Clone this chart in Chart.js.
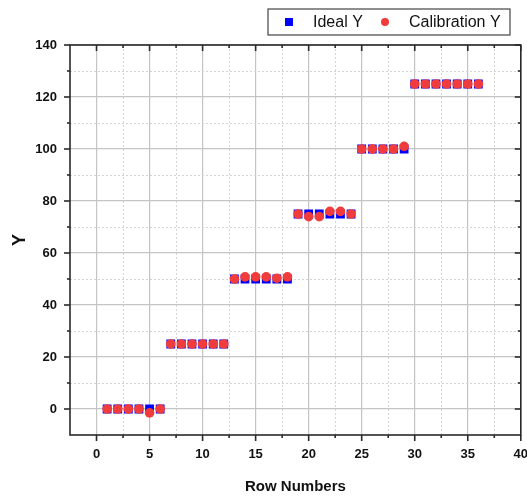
<!DOCTYPE html>
<html>
<head>
<meta charset="utf-8">
<script src="https://cdn.jsdelivr.net/npm/chart.js@4/dist/chart.umd.min.js"></script>
<style>
	html, body { margin: 0; padding: 0; background: #fff; }
	#wrap { width: 527px; height: 500px; }
</style>
</head>
<body>
<div id="wrap"><canvas id="calib"></canvas></div>
<script>
const rows = [1, 2, 3, 4, 5, 6, 7, 8, 9, 10, 11, 12, 13, 14, 15, 16, 17, 18,
	19, 20, 21, 22, 23, 24, 25, 26, 27, 28, 29, 30, 31, 32, 33, 34, 35, 36];
const idealY = [0, 0, 0, 0, 0, 0, 25, 25, 25, 25, 25, 25, 50, 50, 50, 50, 50, 50,
	75, 75, 75, 75, 75, 75, 100, 100, 100, 100, 100, 125, 125, 125, 125, 125, 125, 125];
const calibrationY = [0, 0, 0, 0, -1.5, 0, 25, 25, 25, 25, 25, 25, 50, 50.8, 50.8, 50.8, 50.3, 50.8,
	75, 74, 74, 76, 76, 75, 100, 100, 100, 100, 101, 125, 125, 125, 125, 125, 125, 125];
const xTicks = [0, 5, 10, 15, 20, 25, 30, 35, 40];
const xMinor = [2.5, 7.5, 12.5, 17.5, 22.5, 27.5, 32.5, 37.5];
const yTicks = [0, 20, 40, 60, 80, 100, 120, 140];
const yMinor = [-10, 10, 30, 50, 70, 90, 110, 130];

const frameColor = '#2a2a2a';
const tickFont = { family: 'Liberation Sans, Arial, sans-serif', size: 13, weight: 'bold' };

// minor grid, frame and ticks on all four sides
const framePlugin = {
	id: 'frame',
	beforeDatasetsDraw(chart) {
		const { ctx, chartArea: a, scales: { x, y } } = chart;
		ctx.save();
		ctx.strokeStyle = '#d4d4d4';
		ctx.lineWidth = 1;
		ctx.setLineDash([2, 2]);
		xMinor.forEach(v => {
			const px = Math.round(x.getPixelForValue(v)) + 0.5;
			ctx.beginPath(); ctx.moveTo(px, a.top); ctx.lineTo(px, a.bottom); ctx.stroke();
		});
		yMinor.forEach(v => {
			if (v <= y.min) return;
			const py = Math.round(y.getPixelForValue(v)) + 0.5;
			ctx.beginPath(); ctx.moveTo(a.left, py); ctx.lineTo(a.right, py); ctx.stroke();
		});
		ctx.restore();
	},
	afterDraw(chart) {
		const { ctx, chartArea: a, scales: { x, y } } = chart;
		ctx.save();
		ctx.strokeStyle = frameColor;
		ctx.lineWidth = 1.6;
		ctx.strokeRect(a.left, a.top, a.right - a.left, a.bottom - a.top);
		const tick = (x1, y1, x2, y2) => {
			ctx.beginPath(); ctx.moveTo(x1, y1); ctx.lineTo(x2, y2); ctx.stroke();
		};
		xTicks.forEach(v => {
			const px = x.getPixelForValue(v);
			tick(px, a.bottom, px, a.bottom + 6);
			tick(px, a.top, px, a.top + 6);
		});
		xMinor.forEach(v => {
			const px = x.getPixelForValue(v);
			tick(px, a.bottom, px, a.bottom + 3);
			tick(px, a.top, px, a.top + 3);
		});
		yTicks.forEach(v => {
			const py = y.getPixelForValue(v);
			tick(a.left - 6, py, a.left, py);
			tick(a.right - 6, py, a.right, py);
		});
		yMinor.forEach(v => {
			if (v <= y.min) return;
			const py = y.getPixelForValue(v);
			tick(a.left - 3, py, a.left, py);
			tick(a.right - 3, py, a.right, py);
		});

		// legend box
		ctx.lineWidth = 1.2;
		ctx.strokeStyle = '#444';
		ctx.strokeRect(268, 9, 242, 26);
		ctx.font = '16px Liberation Sans, Arial, sans-serif';
		ctx.textBaseline = 'middle';
		const ds = chart.data.datasets;
		ctx.fillStyle = ds[0].backgroundColor;
		ctx.fillRect(285, 18, 8, 8);
		ctx.fillStyle = '#111';
		ctx.fillText(ds[0].label, 313, 23);
		ctx.fillStyle = ds[1].backgroundColor;
		ctx.beginPath(); ctx.arc(385, 22, 4, 0, Math.PI * 2); ctx.fill();
		ctx.fillStyle = '#111';
		ctx.fillText(ds[1].label, 409, 23);
		ctx.restore();
	}
};

new Chart(document.getElementById('calib'), {
	type: 'scatter',
	data: {
		datasets: [
			{
				label: 'Ideal Y',
				data: rows.map((r, i) => ({ x: r, y: idealY[i] })),
				order: 2,
				pointStyle: 'rect',
				pointRadius: 6.2,
				backgroundColor: '#0000ff',
				borderColor: '#0000ff',
				borderWidth: 0
			},
			{
				label: 'Calibration Y',
				data: rows.map((r, i) => ({ x: r, y: calibrationY[i] })),
				order: 1,
				pointStyle: 'circle',
				pointRadius: 4.8,
				backgroundColor: '#f03c3c',
				borderColor: '#f03c3c',
				borderWidth: 0
			}
		]
	},
	options: {
		responsive: true,
		maintainAspectRatio: false,
		animation: false,
		layout: { padding: { left: 0, right: 6, top: 45, bottom: 4 } },
		plugins: {
			legend: { display: false },
			tooltip: { enabled: false }
		},
		scales: {
			x: {
				type: 'linear',
				min: -2.5,
				max: 40,
				afterBuildTicks: s => { s.ticks = xTicks.map(v => ({ value: v })); },
				afterFit: s => { s.height = 61; s.paddingLeft = 0; s.paddingRight = 0; },
				ticks: { padding: 12, color: '#111', font: tickFont, maxRotation: 0 },
				grid: { color: '#c4c4c4', lineWidth: 1.2, drawTicks: false },
				border: { display: false },
				title: {
					display: true,
					text: 'Row Numbers',
					color: '#111',
					font: { family: 'Liberation Sans, Arial, sans-serif', size: 15, weight: 'bold' },
					padding: { top: 4, bottom: 0 }
				}
			},
			y: {
				min: -10,
				max: 140,
				afterBuildTicks: s => { s.ticks = yTicks.map(v => ({ value: v })); },
				afterFit: s => { s.width = 70; },
				ticks: { padding: 13, color: '#111', font: tickFont },
				grid: { color: '#c4c4c4', lineWidth: 1.2, drawTicks: false },
				border: { display: false },
				title: {
					display: true,
					text: 'Y',
					color: '#111',
					font: { family: 'Liberation Sans, Arial, sans-serif', size: 18, weight: 'bold' },
					padding: { top: 9, bottom: 0 }
				}
			}
		}
	},
	plugins: [framePlugin]
});
</script>
</body>
</html>
